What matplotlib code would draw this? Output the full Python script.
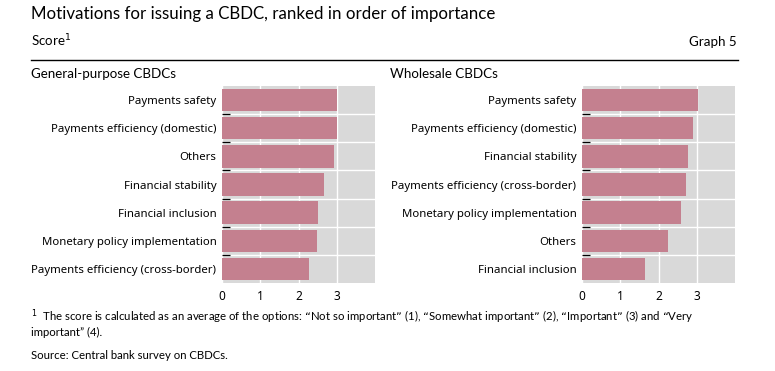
import matplotlib.pyplot as plt
import numpy as np

# data (top to bottom)
gp_labels = ["Payments safety", "Payments efficiency (domestic)", "Others",
             "Financial stability", "Financial inclusion",
             "Monetary policy implementation", "Payments efficiency (cross-border)"]
gp_scores = [3.0, 3.0, 2.93, 2.66, 2.50, 2.48, 2.27]

ws_labels = ["Payments safety", "Payments efficiency (domestic)", "Financial stability",
             "Payments efficiency (cross-border)", "Monetary policy implementation",
             "Others", "Financial inclusion"]
ws_scores = [3.03, 2.89, 2.76, 2.73, 2.60, 2.26, 1.64]

xticks = [0, 1, 2, 3]

W, H = 775, 371
BAR = "#c4808f"
GREY = "#d9d9d9"
HEAD = "Lato"
LAB = "Noto Sans"


def fx(px):
    return px / W


def fy(py):
    return 1 - py / H


fig = plt.figure(figsize=(W / 100, H / 100), dpi=100)


def panel(left_px, labels, scores):
    ax = fig.add_axes([fx(left_px), fy(283), fx(153), (283 - 86) / H])
    ax.set_facecolor(GREY)
    y = np.arange(len(labels))
    ax.barh(y, scores, height=0.8, color=BAR, zorder=3)
    ax.set_xlim(0, 4)
    ax.set_ylim(len(labels) - 0.5, -0.5)
    ax.set_xticks(xticks)
    ax.set_xticklabels([str(t) for t in xticks], fontsize=8.5, family=LAB)
    ax.set_yticks(y)
    ax.set_yticklabels(labels, fontsize=8.2, family=LAB)
    ax.set_yticks(np.arange(len(labels) - 1) + 0.5, minor=True)
    ax.tick_params(axis="both", which="major", length=0)
    ax.tick_params(axis="x", pad=5)
    ax.tick_params(axis="y", pad=4)
    ax.tick_params(axis="y", which="minor", direction="in", length=6,
                   width=0.9, color="black")
    ax.grid(axis="x", which="major", color="white", linewidth=1.0, zorder=1)
    ax.grid(axis="y", which="minor", color="white", linewidth=1.0, zorder=1)
    ax.set_axisbelow(True)
    for s in ax.spines.values():
        s.set_visible(False)
    return ax


panel(222, gp_labels, gp_scores)
panel(582, ws_labels, ws_scores)

fig.text(fx(31), fy(18.5), "Motivations for issuing a CBDC, ranked in order of importance",
         fontsize=12.2, family=HEAD, va="baseline")
fig.text(fx(31), fy(46), "Score$^{1}$", fontsize=9.6, family=HEAD, va="baseline")
fig.text(fx(737), fy(46), "Graph 5", fontsize=9.6, family=HEAD, va="baseline", ha="right")
fig.add_artist(plt.Line2D([fx(31), fx(738)], [fy(59.5), fy(59.5)], color="black",
                          linewidth=1.0))
fig.text(fx(31), fy(78), "General-purpose CBDCs", fontsize=9.6, family=HEAD, va="baseline")
fig.text(fx(390), fy(78), "Wholesale CBDCs", fontsize=9.6, family=HEAD, va="baseline")

foot = ("$^{1}$  The score is calculated as an average of the options: \u201cNot so important\u201d (1), "
        "\u201cSomewhat important\u201d (2), \u201cImportant\u201d (3) and \u201cVery")
fig.text(fx(31), fy(321), foot, fontsize=8.2, family=HEAD, va="baseline")
fig.text(fx(31), fy(336), "important\u201d (4).", fontsize=8.2, family=HEAD, va="baseline")
fig.text(fx(31), fy(359), "Source: Central bank survey on CBDCs.", fontsize=8.2,
         family=HEAD, va="baseline")

fig.savefig("out.png", dpi=100)
